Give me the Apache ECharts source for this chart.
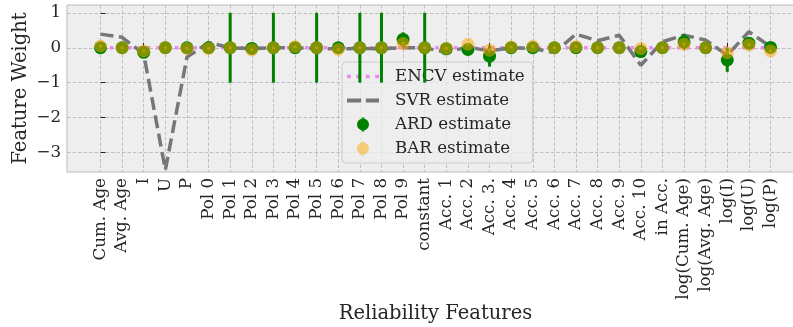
<!DOCTYPE html>
<html>
<head>
<meta charset="utf-8">
<script src="https://cdn.jsdelivr.net/npm/echarts@6/dist/echarts.min.js"></script>
<style>
  html, body { margin: 0; padding: 0; background: #fff; }
  #chart { width: 793px; height: 327px; }
</style>
</head>
<body>
<div id="chart"></div>
<script>
// feature names along the x axis
var categories = ['Cum. Age', 'Avg. Age', 'I', 'U', 'P',
    'Pol 0', 'Pol 1', 'Pol 2', 'Pol 3', 'Pol 4', 'Pol 5', 'Pol 6', 'Pol 7', 'Pol 8', 'Pol 9',
    'constant', 'Acc. 1', 'Acc. 2', 'Acc. 3.', 'Acc. 4', 'Acc. 5', 'Acc. 6', 'Acc. 7', 'Acc. 8',
    'Acc. 9', 'Acc. 10', 'in Acc.', 'log(Cum. Age)', 'log(Avg. Age)', 'log(I)', 'log(U)', 'log(P)'];

// estimates
var encv = [0, 0, 0, 0, 0, 0, 0, 0, 0, 0, 0, 0, 0, 0, 0, 0,
    0, 0, 0, 0, 0, 0, 0, 0, 0, 0, 0, 0, 0, 0, 0, 0];
var svr = [0.39, 0.3, -0.18, -3.5, -0.27, 0.15, 0, -0.03, 0, 0, -0.02, -0.03, -0.02, -0.03, 0, 0,
    -0.13, 0.02, -0.09, 0, -0.02, -0.14, 0.39, 0.2, 0.36, -0.5, 0.17, 0.36, 0.22, -0.21, 0.46, 0.03];
var ard = [0, 0, -0.13, 0, 0, 0, 0, -0.02, 0, 0, 0, 0, 0, 0, 0.24, 0,
    -0.03, -0.05, -0.24, 0, 0, 0, 0, 0, 0, -0.11, 0, 0.17, 0, -0.35, 0.13, 0.01];
var ardErr = [0.02, 0.02, 0.05, 0.02, 0.02, 0.02, 1.0, 0.02, 1.0, 0.02, 1.0, 0.02, 1.0, 1.0, 0.2, 1.0,
    0.02, 0.03, 0.3, 0.02, 0.02, 0.02, 0.02, 0.02, 0.02, 0.05, 0.02, 0.22, 0.02, 0.34, 0.05, 0.02];
var bar = [0.05, 0, -0.09, 0, -0.02, -0.02, 0, -0.06, 0, 0.03, 0, -0.05, 0, 0, 0.12, 0,
    -0.02, 0.1, -0.07, 0.02, 0.04, 0, 0.03, 0, 0, -0.02, 0, 0.1, 0, -0.14, 0.08, -0.09];
var barErr = [0.04, 0.04, 0.04, 0.04, 0.04, 0.04, 0.04, 0.04, 0.04, 0.04, 0.04, 0.04, 0.04, 0.04, 0.05, 0.04,
    0.04, 0.04, 0.05, 0.04, 0.04, 0.04, 0.04, 0.04, 0.04, 0.04, 0.04, 0.05, 0.04, 0.05, 0.04, 0.04];
var yTicks = [-3, -2, -1, 0, 1];

var xTicks = categories.map(function (c, i) { return i; });
var serif = 'DejaVu Serif';
var txt = '#262626';
// legend glyphs: marker with error bar, dotted and dashed strokes
var errIcon = 'path://M0,7A6,6 0 1,0 12,7A6,6 0 1,0 0,7Z M4.6,0L7.4,0L7.4,1.05L4.6,1.05Z M4.6,12.95L7.4,12.95L7.4,14L4.6,14Z';
var dotIcon = 'path://M0,0H3.8V3.6H0Z M9.3,0H13.1V3.6H9.3Z M18.6,0H22.4V3.6H18.6Z M27.9,0H31.7V3.6H27.9Z';
var dashIcon = 'path://M0,0H14V4H0Z M18.6,0H31.6V4H18.6Z';

function pts(vals) {
    return vals.map(function (v, i) { return [i, v]; });
}

function errSeries(name, vals, errs, color, opacity, z) {
    return {
        type: 'custom',
        name: name,
        z: z,
        silent: true,
        renderItem: function (params, api) {
            var x = api.value(0), y = api.value(1), e = api.value(2);
            var p1 = api.coord([x, y - e]), p2 = api.coord([x, y + e]);
            return {
                type: 'line',
                shape: {x1: p1[0], y1: p1[1], x2: p2[0], y2: p2[1]},
                style: {stroke: color, lineWidth: 3, opacity: opacity}
            };
        },
        data: vals.map(function (v, i) { return [i, v, errs[i]]; })
    };
}

var chart = echarts.init(document.getElementById('chart'), null, {renderer: 'canvas'});
var option = {
    animation: false,
    backgroundColor: '#ffffff',
    grid: {
        left: 67, top: 5, right: -11, bottom: 155,
        outerBoundsMode: 'none', containLabel: false,
        show: true, backgroundColor: '#eeeeee', borderColor: '#bcbcbc', borderWidth: 1
    },
    legend: {
        orient: 'vertical',
        left: 342, top: 62,
        padding: [6, 8, 6, 5],
        itemWidth: 32, itemHeight: 14, itemGap: 7,
        backgroundColor: 'rgba(238,238,238,0.8)',
        borderColor: '#cccccc', borderWidth: 1, borderRadius: 4,
        textStyle: {fontFamily: serif, fontSize: 16.7, lineHeight: 17, color: txt, padding: [0, 0, 0, 11]},
        data: [
            {name: 'ENCV estimate', icon: dotIcon},
            {name: 'SVR estimate', icon: dashIcon},
            {name: 'ARD estimate', icon: errIcon},
            {name: 'BAR estimate', icon: errIcon}
        ]
    },
    xAxis: {
        type: 'value', min: -1.55, max: 32.55,
        name: 'Reliability Features', nameLocation: 'middle', nameGap: 132, nameMoveOverlap: false,
        nameTextStyle: {fontFamily: serif, fontSize: 19.5, color: txt},
        axisLine: {show: false},
        axisTick: {show: true, inside: true, length: 5, customValues: xTicks, lineStyle: {color: '#222', width: 1}},
        axisLabel: {
            customValues: xTicks, rotate: 90, margin: 6,
            fontFamily: serif, fontSize: 16.7, color: txt,
            formatter: function (v) { return categories[v]; }
        },
        splitLine: {show: true, lineStyle: {color: '#b2b2b2', width: 0.8, type: [3.5, 2]}}
    },
    yAxis: {
        type: 'value', min: -3.56, max: 1.225,
        name: 'Feature Weight', nameLocation: 'middle', nameGap: 36, nameRotate: 90, nameMoveOverlap: false,
        nameTextStyle: {fontFamily: serif, fontSize: 19.5, color: txt},
        axisLine: {show: false},
        axisTick: {show: true, inside: true, length: 5, customValues: yTicks, lineStyle: {color: '#222', width: 1}},
        axisLabel: {
            customValues: yTicks, margin: 6,
            fontFamily: serif, fontSize: 16.7, color: txt,
            formatter: function (v) { return v < 0 ? '\u2212' + Math.abs(v) : String(v); }
        },
        splitLine: {show: true, lineStyle: {color: '#b2b2b2', width: 0.8, type: [3.5, 2]}}
    },
    series: [
        {
            name: 'ENCV estimate', type: 'line', z: 2, symbol: 'none', symbolKeepAspect: true,
            lineStyle: {color: '#ee88ee', width: 3.5, type: [3.5, 5.8]},
            itemStyle: {color: '#ee88ee'},
            data: pts(encv)
        },
        {
            name: 'SVR estimate', type: 'line', z: 3, symbol: 'none', symbolKeepAspect: true,
            lineStyle: {color: '#777777', width: 3.5, type: [13, 5.6]},
            itemStyle: {color: '#777777'},
            data: pts(svr)
        },
        errSeries('ARD err', ard, ardErr, '#008000', 1, 4),
        {
            name: 'ARD estimate', type: 'scatter', z: 5, symbol: 'circle', symbolSize: 13,
            symbolKeepAspect: true,
            itemStyle: {color: '#008000', opacity: 1},
            data: pts(ard)
        },
        errSeries('BAR err', bar, barErr, '#ffa500', 0.5, 6),
        {
            name: 'BAR estimate', type: 'scatter', z: 7, symbol: 'circle', symbolSize: 13,
            symbolKeepAspect: true,
            itemStyle: {color: '#ffa500', opacity: 0.5},
            data: pts(bar)
        }
    ]
};
chart.setOption(option);
</script>
</body>
</html>
